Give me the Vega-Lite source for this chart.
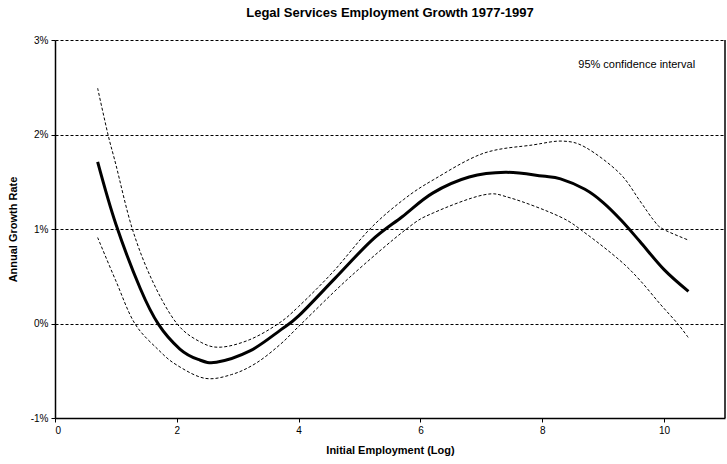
{
  "$schema": "https://vega.github.io/schema/vega-lite/v6.json",
  "width": 670,
  "height": 378,
  "autosize": "none",
  "padding": {"left": 55, "top": 40, "right": 2, "bottom": 46},
  "background": "white",
  "config": {
    "font": "Liberation Sans",
    "view": {"stroke": null}
  },
  "title": {
    "text": "Legal Services Employment Growth 1977-1997",
    "fontSize": 13,
    "fontWeight": "bold",
    "font": "Liberation Sans",
    "color": "black",
    "anchor": "middle",
    "offset": 15
  },
  "datasets": {
    "curves": [
      {"x": 0.7, "y": 1.71, "series": "est"},
      {"x": 1.0, "y": 1.05, "series": "est"},
      {"x": 1.4, "y": 0.37, "series": "est"},
      {"x": 1.7, "y": -0.01, "series": "est"},
      {"x": 2.05, "y": -0.27, "series": "est"},
      {"x": 2.35, "y": -0.38, "series": "est"},
      {"x": 2.65, "y": -0.41, "series": "est"},
      {"x": 3.2, "y": -0.29, "series": "est"},
      {"x": 3.7, "y": -0.07, "series": "est"},
      {"x": 4.0, "y": 0.08, "series": "est"},
      {"x": 4.6, "y": 0.48, "series": "est"},
      {"x": 5.2, "y": 0.88, "series": "est"},
      {"x": 5.7, "y": 1.13, "series": "est"},
      {"x": 6.2, "y": 1.38, "series": "est"},
      {"x": 6.8, "y": 1.55, "series": "est"},
      {"x": 7.4, "y": 1.6, "series": "est"},
      {"x": 8.0, "y": 1.56, "series": "est"},
      {"x": 8.3, "y": 1.53, "series": "est"},
      {"x": 8.7, "y": 1.42, "series": "est"},
      {"x": 9.0, "y": 1.28, "series": "est"},
      {"x": 9.3, "y": 1.09, "series": "est"},
      {"x": 9.6, "y": 0.87, "series": "est"},
      {"x": 10.0, "y": 0.57, "series": "est"},
      {"x": 10.4, "y": 0.34, "series": "est"},

      {"x": 0.7, "y": 2.49, "series": "upper"},
      {"x": 0.87, "y": 2.0, "series": "upper"},
      {"x": 1.0, "y": 1.68, "series": "upper"},
      {"x": 1.27, "y": 1.0, "series": "upper"},
      {"x": 1.6, "y": 0.45, "series": "upper"},
      {"x": 2.0, "y": 0.0, "series": "upper"},
      {"x": 2.4, "y": -0.2, "series": "upper"},
      {"x": 2.73, "y": -0.25, "series": "upper"},
      {"x": 3.2, "y": -0.17, "series": "upper"},
      {"x": 3.67, "y": 0.0, "series": "upper"},
      {"x": 4.0, "y": 0.18, "series": "upper"},
      {"x": 4.57, "y": 0.55, "series": "upper"},
      {"x": 5.17, "y": 1.0, "series": "upper"},
      {"x": 5.72, "y": 1.31, "series": "upper"},
      {"x": 6.21, "y": 1.52, "series": "upper"},
      {"x": 7.03, "y": 1.8, "series": "upper"},
      {"x": 7.85, "y": 1.89, "series": "upper"},
      {"x": 8.34, "y": 1.93, "series": "upper"},
      {"x": 8.72, "y": 1.86, "series": "upper"},
      {"x": 9.27, "y": 1.59, "series": "upper"},
      {"x": 9.6, "y": 1.3, "series": "upper"},
      {"x": 9.82, "y": 1.1, "series": "upper"},
      {"x": 9.98, "y": 1.0, "series": "upper"},
      {"x": 10.41, "y": 0.88, "series": "upper"},

      {"x": 0.7, "y": 0.91, "series": "lower"},
      {"x": 1.0, "y": 0.45, "series": "lower"},
      {"x": 1.31, "y": 0.0, "series": "lower"},
      {"x": 1.7, "y": -0.28, "series": "lower"},
      {"x": 2.0, "y": -0.44, "series": "lower"},
      {"x": 2.46, "y": -0.58, "series": "lower"},
      {"x": 2.9, "y": -0.54, "series": "lower"},
      {"x": 3.3, "y": -0.42, "series": "lower"},
      {"x": 3.7, "y": -0.22, "series": "lower"},
      {"x": 4.05, "y": 0.0, "series": "lower"},
      {"x": 4.84, "y": 0.49, "series": "lower"},
      {"x": 5.77, "y": 1.0, "series": "lower"},
      {"x": 6.21, "y": 1.17, "series": "lower"},
      {"x": 7.03, "y": 1.36, "series": "lower"},
      {"x": 7.47, "y": 1.33, "series": "lower"},
      {"x": 8.29, "y": 1.13, "series": "lower"},
      {"x": 8.72, "y": 0.95, "series": "lower"},
      {"x": 9.27, "y": 0.67, "series": "lower"},
      {"x": 9.6, "y": 0.46, "series": "lower"},
      {"x": 9.93, "y": 0.21, "series": "lower"},
      {"x": 10.22, "y": 0.0, "series": "lower"},
      {"x": 10.41, "y": -0.16, "series": "lower"}
    ],
    "border": [{"x": 11}]
  },
  "layer": [
    {
      "data": {"name": "curves"},
      "transform": [{"filter": "datum.series != 'est'"}],
      "mark": {"type": "line", "interpolate": "cardinal", "color": "black", "strokeWidth": 1, "strokeDash": [3, 2]},
      "encoding": {
        "x": {
          "field": "x", "type": "quantitative",
          "scale": {"domain": [0, 11], "nice": false, "zero": false},
          "axis": {
            "values": [0, 2, 4, 6, 8, 10],
            "format": "d",
            "title": "Initial Employment (Log)",
            "titleFont": "Liberation Sans", "titleFontSize": 11, "titleFontWeight": "bold", "titleColor": "black",
            "titlePadding": 9,
            "labelFont": "Liberation Sans", "labelFontSize": 10, "labelColor": "black", "labelPadding": 3,
            "domainColor": "black", "domainWidth": 1.5,
            "tickColor": "black", "tickSize": 4,
            "grid": false
          }
        },
        "y": {
          "field": "y", "type": "quantitative",
          "scale": {"domain": [-1, 3], "nice": false},
          "axis": {
            "values": [-1, 0, 1, 2, 3],
            "labelExpr": "datum.value + '%'",
            "title": "Annual Growth Rate",
            "titleFont": "Liberation Sans", "titleFontSize": 11, "titleFontWeight": "bold", "titleColor": "black",
            "titlePadding": 12,
            "labelFont": "Liberation Sans", "labelFontSize": 10, "labelColor": "black", "labelPadding": 3,
            "domainColor": "black", "domainWidth": 1.5,
            "tickColor": "black", "tickSize": 4,
            "grid": true, "gridColor": "black", "gridDash": [3, 2], "gridWidth": 1,
            "gridOpacity": {"expr": "datum.value == -1 ? 0 : 1"}
          }
        },
        "detail": {"field": "series", "type": "nominal"}
      }
    },
    {
      "data": {"name": "curves"},
      "transform": [{"filter": "datum.series == 'est'"}],
      "mark": {"type": "line", "interpolate": "cardinal", "color": "black", "strokeWidth": 3},
      "encoding": {
        "x": {"field": "x", "type": "quantitative"},
        "y": {"field": "y", "type": "quantitative"}
      }
    },
    {
      "data": {"name": "border"},
      "mark": {"type": "rule", "color": "black", "strokeWidth": 1.5},
      "encoding": {
        "x": {"field": "x", "type": "quantitative"}
      }
    },
    {
      "data": {"values": [{"label": "95% confidence interval"}]},
      "mark": {"type": "text", "font": "Liberation Sans", "fontSize": 11, "color": "black", "align": "center", "baseline": "middle"},
      "encoding": {
        "x": {"datum": 9.55},
        "y": {"datum": 2.74},
        "text": {"field": "label"}
      }
    }
  ]
}
